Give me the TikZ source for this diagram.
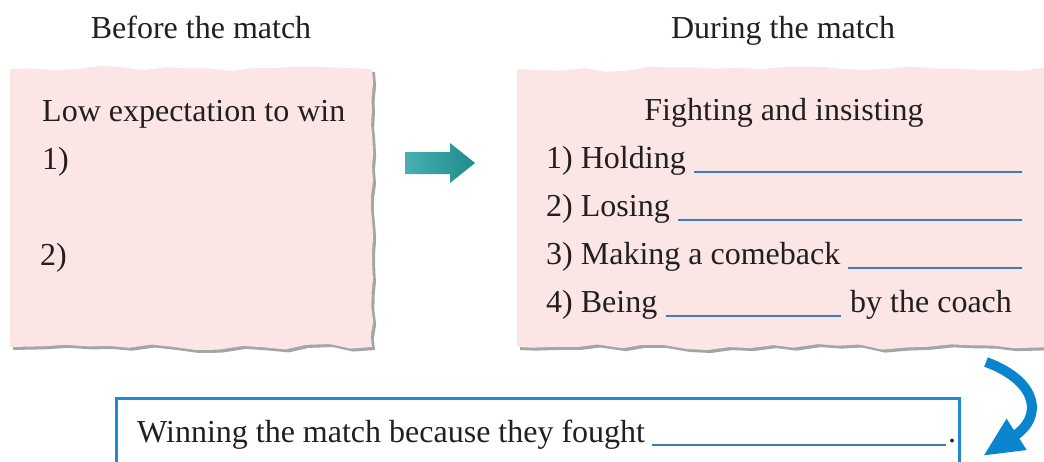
\documentclass[tikz,border=0pt]{standalone}
\usepackage{fontspec}
\setmainfont{Liberation Serif}
\usetikzlibrary{decorations.pathmorphing,arrows.meta}
\definecolor{pinkfill}{RGB}{252,229,229}
\definecolor{shadowgray}{RGB}{165,165,165}
\definecolor{inkcol}{RGB}{35,31,32}
\definecolor{lineblue}{RGB}{58,124,192}
\definecolor{boxblue}{RGB}{27,140,210}
\definecolor{curveblue}{RGB}{10,132,204}
\definecolor{tealL}{RGB}{72,176,176}
\definecolor{tealR}{RGB}{30,140,140}
\begin{document}
\begin{tikzpicture}[x=1pt,y=-1pt,
  txt/.style={inner sep=0pt,text=inkcol,font=\fontsize{32}{38}\selectfont},
  blank/.style={draw=lineblue,line width=1.4pt},
  tornh/.style={decoration={random steps,segment length=22pt,amplitude=3pt}},
  tornv/.style={decoration={random steps,segment length=14pt,amplitude=1.2pt}}]
\useasboundingbox (0,0) rectangle (1044,461);
% left torn paper
\foreach \col/\sh in {shadowgray/3,pinkfill/0}{
  \pgfmathsetseed{7}
  \path[fill=\col,shift={(\sh,\sh)}] (10,69)
    decorate[tornh]{-- (372,69)} decorate[tornv]{-- (372,347)} decorate[tornh]{-- (10,347)} -- cycle;
}
% right torn paper
\foreach \col/\sh in {shadowgray/3,pinkfill/0}{
  \pgfmathsetseed{19}
  \path[fill=\col,shift={(\sh,\sh)}] (517,69)
    decorate[tornh]{-- (1060,69)} -- (1060,347) decorate[tornh]{-- (517,347)} -- cycle;
}
% titles
\node[txt,anchor=base] (t1) at (201,38) {Before the match};
\node[txt,anchor=base] (t2) at (783,38) {During the match};
% left contents
\node[txt,anchor=base west] (l0) at (42,121) {Low expectation to win};
\node[txt,anchor=base west] (l1) at (42,169) {1)};
\node[txt,anchor=base west] (l2) at (40,265) {2)};
% teal arrow
\path[left color=tealL,right color=tealR] (405,152) -- (450,152) -- (450,143) -- (475,163)
  -- (450,183) -- (450,174) -- (405,174) -- cycle;
% right contents
\node[txt,anchor=base] (r0) at (784,120) {Fighting and insisting};
\node[txt,anchor=base west] (r1) at (546,168) {1) Holding};
\node[txt,anchor=base west] (r2) at (546,216) {2) Losing};
\node[txt,anchor=base west] (r3) at (546,264) {3) Making a comeback};
\node[txt,anchor=base west] (r4) at (546,312) {4) Being};
\node[txt,anchor=base west] (r4b) at (850,312) {by the coach};
\draw[blank] (694,172) -- (1022,172);
\draw[blank] (678,220) -- (1022,220);
\draw[blank] (848,268) -- (1022,268);
\draw[blank] (666,316) -- (841,316);
% bottom box
\node[draw=boxblue,line width=2.5pt,minimum width=843pt,minimum height=80pt,anchor=north west,inner sep=0pt] (res) at (115,397) {};
\node[txt,anchor=base west] (b1) at (137,442) {Winning the match because they fought};
\draw[blank] (652,445) -- (946,445);
\node[txt,anchor=base west] (dot) at (948,442) {.};
% curved arrow
\coordinate (cs) at (986,362);
\coordinate (ce) at (983,456);
\draw[curveblue,line width=10pt,-{Triangle[length=40pt,width=34pt]}] (cs) .. controls (1040,382) and (1042,418) .. (ce);
\end{tikzpicture}
\end{document}
